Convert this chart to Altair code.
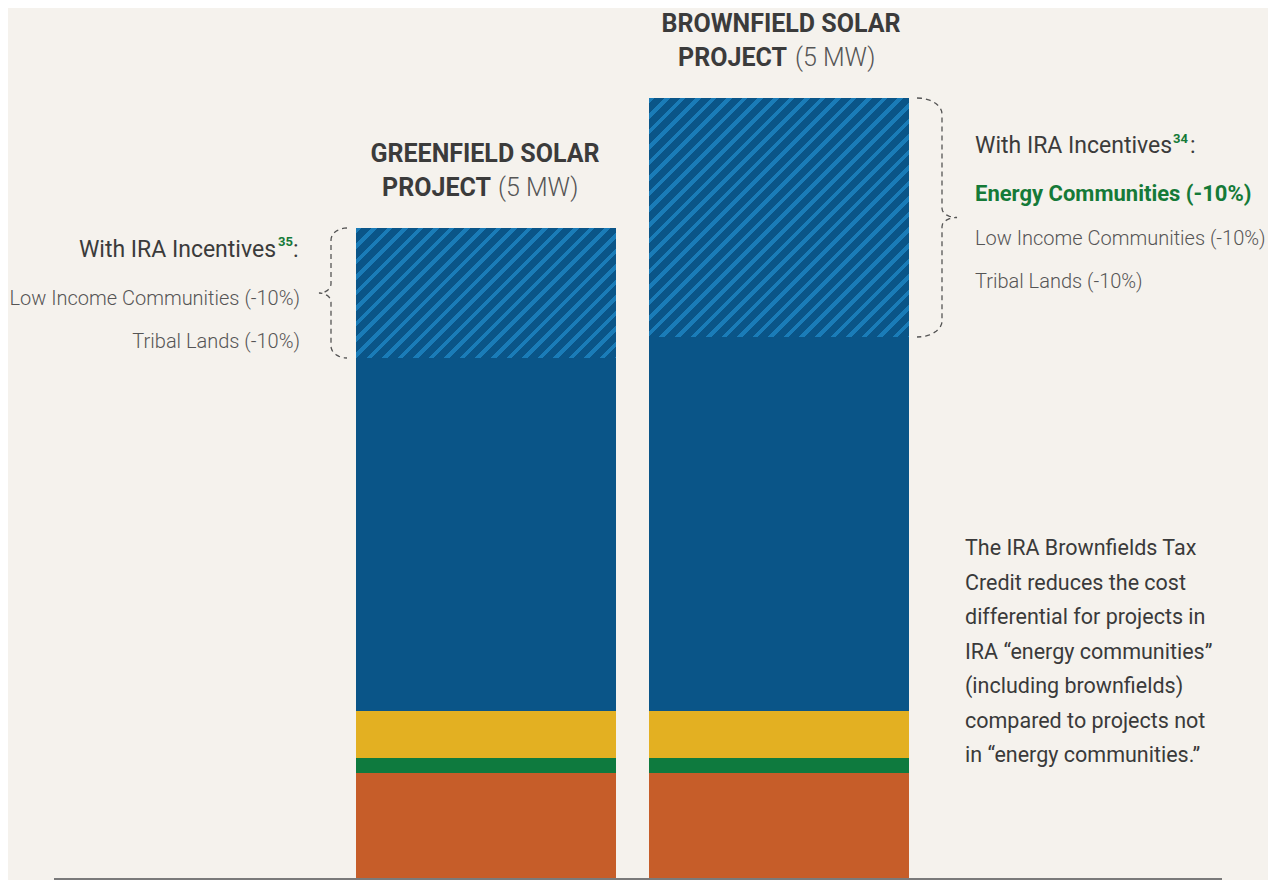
import math
import altair as alt
import pandas as pd

# ---------------- data ----------------
projects = ["Greenfield", "Brownfield"]
components = ["Component A", "Component B", "Component C", "Base cost", "Cost before IRA incentives"]
greenfield_values = [107, 15, 47, 353, 130]
brownfield_values = [107, 15, 47, 374, 239]
component_colors = ["#c65d29", "#0e7a3e", "#e3b022", "#0a5588", "#0a5588"]

left_lines = ["Low Income Communities (-10%)", "Tribal Lands (-10%)"]
right_lines = ["Low Income Communities (-10%)", "Tribal Lands (-10%)"]
energy_line = "Energy Communities (-10%)"
note_lines = [
    "The IRA Brownfields Tax",
    "Credit reduces the cost",
    "differential for projects in",
    "IRA \u201cenergy communities\u201d",
    "(including brownfields)",
    "compared to projects not",
    "in \u201cenergy communities.\u201d",
]

# ---------------- layout / style ----------------
W, H = 1260, 872
BG = "#f5f2ed"
FONT = "Roboto"
DARK = "#3b3b3b"
LIGHT = "#555555"
GREEN = "#157a38"
STRIPE = "#1a7cb8"

rows = []
for proj, vals in zip(projects, [greenfield_values, brownfield_values]):
    base = 0
    for comp, v in zip(components, vals):
        rows.append({"project": proj, "component": comp, "y0": base, "y1": base + v})
        base += v
df = pd.DataFrame(rows)

yscale = alt.Scale(domain=[0, H], nice=False, zero=True)
xscale = alt.Scale(domain=projects, range=[348, 901], paddingInner=33 / 293, paddingOuter=0)
X = alt.X("project:N", scale=xscale, axis=None)

solid = alt.Chart(df[df.component != components[-1]]).mark_bar().encode(
    x=X,
    y=alt.Y("y0:Q", scale=yscale, axis=None),
    y2="y1:Q",
    color=alt.Color("component:N", scale=alt.Scale(domain=components, range=component_colors), legend=None),
)


def hatch_gradient(w, h, period=11.0, frac=0.36):
    r = h / w
    c = (1 + r) / (1 + r * r)
    n = (w + h) / math.sqrt(2) / period
    stops = []
    k = 0
    while k / n < 1:
        a = k / n
        b = min((k + frac) / n, 1)
        e = min((k + 1) / n, 1)
        stops += [alt.GradientStop(color=STRIPE, offset=a), alt.GradientStop(color=STRIPE, offset=b),
                  alt.GradientStop(color="#0a5588", offset=b), alt.GradientStop(color="#0a5588", offset=e)]
        k += 1
    return alt.LinearGradient(gradient="linear", stops=stops, x1=0, y1=0, x2=c, y2=c * r)


hatch_layers = []
for proj in projects:
    sub = df[(df.project == proj) & (df.component == components[-1])]
    hgt = float(sub.y1.iloc[0] - sub.y0.iloc[0])
    hatch_layers.append(
        alt.Chart(sub).mark_bar(color=hatch_gradient(260, hgt)).encode(
            x=X, y=alt.Y("y0:Q", scale=yscale, axis=None), y2="y1:Q"
        )
    )


# braces (dashed curly brackets) around the hatched segments
def brace(name, x0, direction, spine_off, tip_off, top, bot, r=12, r2=9):
    pts = []
    spine = x0 + direction * spine_off
    mid = (top + bot) / 2
    for t in range(0, 91, 10):
        th = math.radians(t)
        pts.append((x0 + direction * spine_off * math.sin(th), top - r + r * math.cos(th)))
    for t in range(0, 91, 15):
        ph = math.radians(t)
        pts.append((spine + direction * tip_off * (1 - math.cos(ph)), mid + r2 * (1 - math.sin(ph))))
    for t in range(90, -1, -15):
        ph = math.radians(t)
        pts.append((spine + direction * tip_off * (1 - math.cos(ph)), mid - r2 * (1 - math.sin(ph))))
    for t in range(90, -1, -10):
        th = math.radians(t)
        pts.append((x0 + direction * spine_off * math.sin(th), bot + r - r * math.cos(th)))
    return [{"brace": name, "i": i, "bx": p[0], "by": p[1]} for i, p in enumerate(pts)]


g = df[(df.project == "Greenfield") & (df.component == components[-1])].iloc[0]
b = df[(df.project == "Brownfield") & (df.component == components[-1])].iloc[0]
brace_df = pd.DataFrame(
    brace("left", 339, -1, 16, 12, g.y1, g.y0) + brace("right", 909, 1, 25, 15, b.y1, b.y0, r=16)
)
braces = alt.Chart(brace_df).mark_line(color="#555555", strokeWidth=1.3, strokeDash=[5, 4]).encode(
    x=alt.X("bx:Q", scale=None),
    y=alt.Y("by:Q", scale=yscale, axis=None),
    order="i:Q",
    detail="brace:N",
)

dummy = pd.DataFrame({"_": [0]})


def txt(text, x, y, size, color=DARK, weight="normal", align="left", **kw):
    return alt.Chart(dummy).mark_text(
        text=text, font=FONT, fontSize=size, color=color, fontWeight=weight,
        align=align, baseline="alphabetic", **kw
    ).encode(x=alt.value(x), y=alt.value(y))


texts = [
    # titles
    txt("GREENFIELD SOLAR", 477, 154, 25, weight="bold", align="center"),
    txt("PROJECT", 483, 188, 25, weight="bold", align="right"),
    txt("(5 MW)", 490, 188, 25, color=LIGHT, weight=300, align="left"),
    txt("BROWNFIELD SOLAR", 773, 24, 25, weight="bold", align="center"),
    txt("PROJECT", 779, 58, 25, weight="bold", align="right"),
    txt("(5 MW)", 787, 58, 25, color=LIGHT, weight=300, align="left"),
    # left annotation
    txt("With IRA Incentives", 268, 249, 23, align="right"),
    txt("35", 270, 238, 13, color=GREEN, weight="bold"),
    txt(":", 285, 249, 23),
    txt(left_lines[0], 292, 297, 20, color=LIGHT, weight=300, align="right"),
    txt(left_lines[1], 292, 340, 20, color=LIGHT, weight=300, align="right"),
    # right annotation
    txt("With IRA Incentives", 967, 145, 23),
    txt("34", 1165, 135, 13, color=GREEN, weight="bold"),
    txt(":", 1182, 145, 23),
    txt(energy_line, 967, 193, 22, color=GREEN, weight="bold"),
    txt(right_lines[0], 967, 237, 20, color=LIGHT, weight=300),
    txt(right_lines[1], 967, 280, 20, color=LIGHT, weight=300),
    # note
    txt(note_lines, 957, 547, 21.5, color="#3a3a3a", lineHeight=34.5),
]

baseline = alt.Chart(dummy).mark_rule(color="#7a7a7a", strokeWidth=2).encode(
    x=alt.value(46), x2=alt.value(1214), y=alt.value(871)
)

chart = alt.layer(solid, *hatch_layers, braces, baseline, *texts).resolve_scale(
    x="independent"
).properties(
    width=W, height=H, background=BG, padding=0, autosize=alt.AutoSizeParams(type="none")
).configure_view(stroke=None)

chart.save("out.html", embed_options={"renderer": "svg", "actions": False})
